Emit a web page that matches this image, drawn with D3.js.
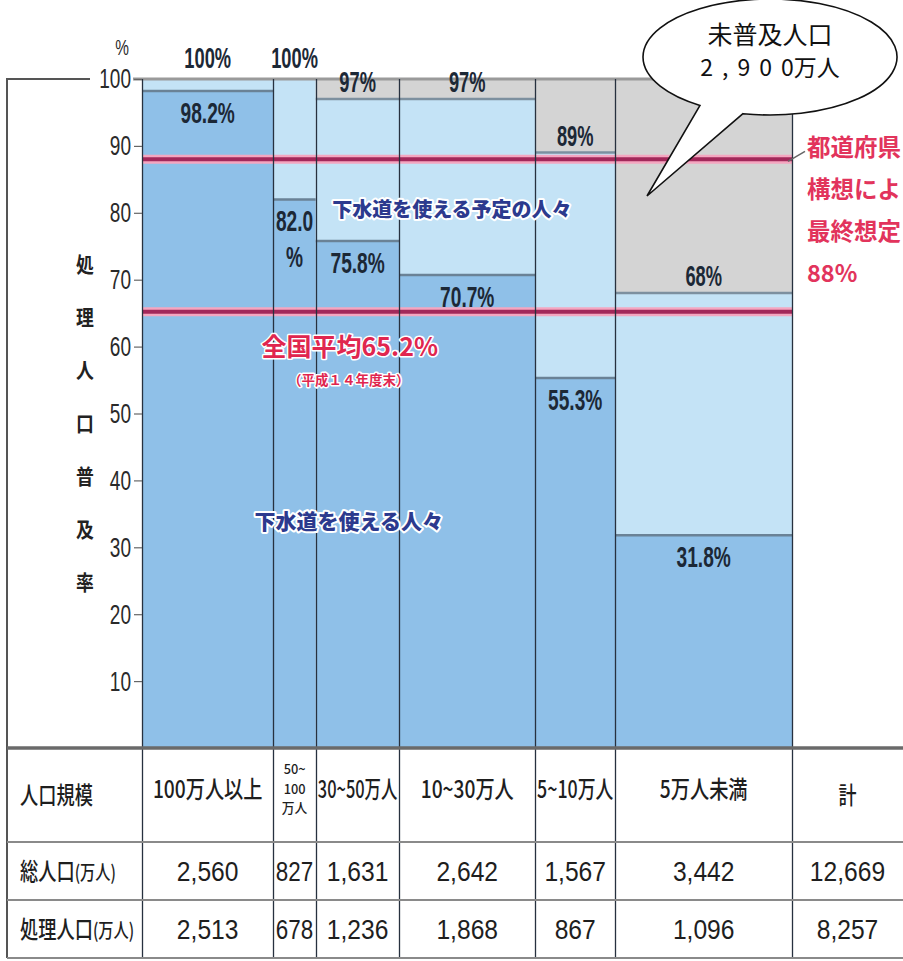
<!DOCTYPE html>
<html>
<head>
<meta charset="utf-8">
<script src="https://cdn.jsdelivr.net/npm/d3@7"></script>
<style>
body { margin: 0; background: #fff; }
svg { display: block; }
</style>
</head>
<body>
<svg width="903" height="961"></svg>
<script>
// ---- data ----
var sizes = ["100万人以上", "50~100万人", "30~50万人", "10~30万人", "5~10万人", "5万人未満"];
var sizeHeaderLines = [["100万人以上"], ["50~", "100", "万人"], ["30~50万人"], ["10~30万人"], ["5~10万人"], ["5万人未満"]];
var totalPop = [2560, 827, 1631, 2642, 1567, 3442];     // 総人口(万人)
var servedPop = [2513, 678, 1236, 1868, 867, 1096];     // 処理人口(万人)
var servedRate = [98.2, 82.0, 75.8, 70.7, 55.3, 31.8];  // 下水道を使える人々
var plannedRate = [100, 100, 97, 97, 89, 68];           // 下水道を使える予定の人々
var totalRow = [12669, 8257];                           // 計
var yTicks = [10, 20, 30, 40, 50, 60, 70, 80, 90, 100];
var nationalAvg = 65.2;
var prefTarget = 88;
var rowLabels = [["人口規模", ""], ["総人口", "(万人)"], ["処理人口", "(万人)"]];
var yTitle = "処理人口普及率";
var bubbleLines = ["未普及人口", "2,900", "万人"];
var targetLines = ["都道府県", "構想によ", "最終想定", "88%"];

var svg = d3.select("svg");
var NUM = "'Liberation Sans', Arial, sans-serif";
var JP = "'Noto Sans CJK JP', 'Noto Sans', sans-serif";

var x = d3.scaleLinear().domain([0, d3.sum(totalPop)]).range([142, 792]);
var y = d3.scaleLinear().domain([0, 100]).range([748, 79]);

var tableRows = [748, 842, 900, 958];
var frameLeft = 7, rightEdge = 903;

var ends = Array.from(d3.cumsum(totalPop));
var cols = sizes.map(function(s, i) {
  return {
    name: s, i: i,
    x0: x(ends[i] - totalPop[i]), x1: x(ends[i]),
    served: servedRate[i], planned: plannedRate[i]
  };
});

// squeeze text horizontally (narrow fonts), optional max width
function squeeze(sel, sx, maxW, sy) {
  sel.each(function(d) {
    var t = d3.select(this);
    var s = sx;
    var mw = typeof maxW === "function" ? maxW(d) : maxW;
    if (mw) {
      var w = this.getComputedTextLength();
      if (w * s > mw) s = mw / w;
    }
    var px = +t.attr("x") || 0, py = +t.attr("y") || 0;
    t.attr("x", null).attr("y", null)
      .attr("transform", "translate(" + px + "," + py + ") scale(" + s + "," + (sy || 1) + ")");
  });
}

// ---- bars ----
var g = svg.append("g");
var col = g.selectAll(".col").data(cols).enter().append("g").attr("class", "col");

col.append("rect")
  .attr("x", function(d) { return d.x0; })
  .attr("width", function(d) { return d.x1 - d.x0; })
  .attr("y", y(100))
  .attr("height", function(d) { return y(d.planned) - y(100); })
  .attr("fill", "#d4d4d4");

col.append("rect")
  .attr("x", function(d) { return d.x0; })
  .attr("width", function(d) { return d.x1 - d.x0; })
  .attr("y", function(d) { return y(d.planned); })
  .attr("height", function(d) { return y(d.served) - y(d.planned); })
  .attr("fill", "#c4e3f6");

col.append("rect")
  .attr("x", function(d) { return d.x0; })
  .attr("width", function(d) { return d.x1 - d.x0; })
  .attr("y", function(d) { return y(d.served); })
  .attr("height", function(d) { return y(0) - y(d.served); })
  .attr("fill", "#8fc0e8");

col.filter(function(d) { return d.planned < 100; }).append("line")
  .attr("x1", function(d) { return d.x0; })
  .attr("x2", function(d) { return d.x1; })
  .attr("y1", function(d) { return y(d.planned); })
  .attr("y2", function(d) { return y(d.planned); })
  .attr("stroke", "#7d909f").attr("stroke-width", 2.5);

col.append("line")
  .attr("x1", function(d) { return d.x0; })
  .attr("x2", function(d) { return d.x1; })
  .attr("y1", function(d) { return y(d.served); })
  .attr("y2", function(d) { return y(d.served); })
  .attr("stroke", "#6a8296").attr("stroke-width", 2.5);

// top line at 100
g.append("line")
  .attr("x1", 133).attr("x2", x(d3.sum(totalPop)))
  .attr("y1", y(100)).attr("y2", y(100))
  .attr("stroke", "#9a9a9a").attr("stroke-width", 3);

// reference lines
[prefTarget, nationalAvg].forEach(function(v) {
  g.append("line").attr("x1", x(0)).attr("x2", x(d3.sum(totalPop)))
    .attr("y1", y(v)).attr("y2", y(v))
    .attr("stroke", "#f4a6c0").attr("stroke-width", 9);
  g.append("line").attr("x1", x(0)).attr("x2", x(d3.sum(totalPop)))
    .attr("y1", y(v)).attr("y2", y(v))
    .attr("stroke", "#a2285a").attr("stroke-width", 4);
});

// column separators (through table)
var bounds = [0].concat(ends);
g.selectAll(".sep").data(bounds).enter().append("line")
  .attr("class", "sep")
  .attr("x1", function(d) { return Math.round(x(d)) + 0.5; })
  .attr("x2", function(d) { return Math.round(x(d)) + 0.5; })
  .attr("y1", y(100)).attr("y2", tableRows[3])
  .attr("stroke", "#27313f").attr("stroke-width", 1.3);

// ---- bar labels ----
var lab = svg.append("g").attr("font-family", NUM).attr("font-weight", "bold")
  .attr("font-size", 29).attr("fill", "#1c2836").attr("text-anchor", "middle");

var servedLab = lab.selectAll(".sl").data(cols).enter().append("text")
  .attr("x", function(d) { return (d.x0 + d.x1) / 2; })
  .attr("y", function(d) { return y(d.served) + 32; })
  .text(function(d) { return (d.x1 - d.x0 < 60) ? d.served.toFixed(1) : d.served.toFixed(1) + "%"; });
squeeze(servedLab, 0.66);

var pctOnly = lab.selectAll(".sp").data(cols.filter(function(d) { return d.x1 - d.x0 < 60; }))
  .enter().append("text")
  .attr("x", function(d) { return (d.x0 + d.x1) / 2; })
  .attr("y", function(d) { return y(d.served) + 68; })
  .text("%");
squeeze(pctOnly, 0.66);

var planLab = lab.selectAll(".pl").data(cols).enter().append("text")
  .attr("x", function(d) { return (d.x0 + d.x1) / 2; })
  .attr("y", function(d) { return y(d.planned) - 7 - (d.planned === 100 ? 4 : 0); })
  .text(function(d) { return d.planned + "%"; });
squeeze(planLab, 0.63);

// ---- y axis ----
var axis = svg.append("g").attr("transform", "translate(" + x(0) + ",0)")
  .call(d3.axisLeft(y).tickValues(yTicks).tickSize(8).tickPadding(3));
axis.select(".domain").remove();
axis.selectAll("line").attr("stroke", "#666").attr("stroke-width", 1.2);
axis.selectAll("text").attr("font-family", NUM).attr("font-size", 28).attr("fill", "#2a2a2a");
squeeze(axis.selectAll("text"), 0.68);

var unit = svg.append("text").attr("x", 122).attr("y", 55).attr("text-anchor", "middle")
  .attr("font-family", NUM).attr("font-size", 22).attr("fill", "#2a2a2a").text("%");
squeeze(unit, 0.7);

// vertical title
var tchars = yTitle.split("");
svg.append("g").selectAll("text").data(tchars).enter().append("text")
  .attr("x", 85)
  .attr("y", function(d, i) { return y(48.5) + (i - (tchars.length - 1) / 2) * 53; })
  .attr("dy", "0.35em")
  .attr("text-anchor", "middle")
  .attr("font-family", JP).attr("font-weight", "bold").attr("font-size", 21).attr("fill", "#222")
  .text(function(d) { return d; })
  .call(squeeze, 0.85);

// ---- annotations in the chart ----
function halo(sel, w) {
  sel.attr("stroke", "#fff").attr("stroke-width", w).attr("stroke-linejoin", "round")
    .attr("paint-order", "stroke");
}
svg.append("text").attr("x", x(6040)).attr("y", y(80.5)).attr("dy", "0.36em")
  .attr("text-anchor", "middle").attr("font-family", JP).attr("font-weight", "900")
  .attr("font-size", 20).attr("fill", "#2c3a8e").text("下水道を使える予定の人々").call(halo, 4);

svg.append("text").attr("x", x(4030)).attr("y", y(33.8)).attr("dy", "0.36em")
  .attr("text-anchor", "middle").attr("font-family", JP).attr("font-weight", "900")
  .attr("font-size", 21).attr("fill", "#2c3a8e").text("下水道を使える人々").call(halo, 4);

svg.append("text").attr("x", x(4050)).attr("y", y(59.9)).attr("dy", "0.36em")
  .attr("text-anchor", "middle").attr("font-family", JP).attr("font-weight", "bold")
  .attr("font-size", 25).attr("fill", "#e0264f").text("全国平均" + nationalAvg + "%").call(halo, 3);

svg.append("text").attr("x", x(4030)).attr("y", y(55)).attr("dy", "0.36em")
  .attr("text-anchor", "middle").attr("font-family", JP).attr("font-weight", "bold")
  .attr("font-size", 13.5).attr("fill", "#e0264f").text("（平成１４年度末）").call(halo, 3);

// right label for 88%
svg.append("line").attr("x1", x(d3.sum(totalPop)) - 4).attr("y1", y(prefTarget) + 2)
  .attr("x2", 805).attr("y2", y(prefTarget) - 8).attr("stroke", "#666").attr("stroke-width", 1.5);
svg.append("g").selectAll("text").data(targetLines).enter().append("text")
  .attr("x", 807)
  .attr("y", function(d, i) { return y(prefTarget) - 12 + i * 42; })
  .attr("dy", "0.36em")
  .attr("font-family", JP).attr("font-weight", "bold").attr("font-size", 23.5)
  .attr("fill", "#e2345c")
  .text(function(d) { return d; });

// ---- frame and table ----
var frame = svg.append("g").attr("fill", "none");
frame.append("path").attr("d", "M90," + y(100) + "H" + frameLeft + "V" + tableRows[3])
  .attr("stroke", "#555").attr("stroke-width", 2);
frame.selectAll(".hl").data(tableRows).enter().append("line")
  .attr("x1", frameLeft).attr("x2", rightEdge)
  .attr("y1", function(d) { return d; }).attr("y2", function(d) { return d; })
  .attr("stroke", function(d, i) { return i === 0 ? "#6a6a6a" : "#8a8a8a"; })
  .attr("stroke-width", function(d, i) { return i === 0 ? 3.5 : 2; });

var rowMid = [0, 1, 2].map(function(i) { return (tableRows[i] + tableRows[i + 1]) / 2; });

// row labels
var tl = svg.append("g").attr("font-family", JP).attr("font-weight", "500").attr("fill", "#1e1e1e");
rowLabels.forEach(function(r, i) {
  var t = tl.append("text").attr("x", 20).attr("y", rowMid[i]).attr("dy", "0.36em").attr("font-size", 24);
  t.append("tspan").text(r[0]);
  if (r[1]) t.append("tspan").attr("font-size", 20).text(r[1]);
  squeeze(t, 0.76);
});

// header cells
cols.forEach(function(d, i) {
  var lines = sizeHeaderLines[i];
  var narrow = lines.length > 1;
  var fs = narrow ? 16 : 24;
  var lh = 19.5;
  lines.forEach(function(s, k) {
    var t = tl.append("text")
      .attr("x", (d.x0 + d.x1) / 2)
      .attr("y", rowMid[0] - 6 + (k - (lines.length - 1) / 2) * lh)
      .attr("dy", "0.36em").attr("text-anchor", "middle")
      .attr("font-size", fs).text(s);
    squeeze(t, 0.8, d.x1 - d.x0 - 4, narrow ? 0.84 : 1);
  });
});
var totX = (x(d3.sum(totalPop)) + rightEdge) / 2;
tl.append("text").attr("x", totX).attr("y", rowMid[0]).attr("dy", "0.36em")
  .attr("text-anchor", "middle").attr("font-size", 24).text("計").call(squeeze, 0.75);

// number cells
var fmt = d3.format(",");
var tn = svg.append("g").attr("font-family", NUM).attr("font-size", 28).attr("fill", "#1e1e1e")
  .attr("text-anchor", "middle");
[totalPop, servedPop].forEach(function(arr, r) {
  cols.forEach(function(d, i) {
    var t = tn.append("text").attr("x", (d.x0 + d.x1) / 2).attr("y", rowMid[r + 1])
      .attr("dy", "0.36em").text(fmt(arr[i]));
    squeeze(t, 0.88, d.x1 - d.x0 - 5);
  });
  tn.append("text").attr("x", totX).attr("y", rowMid[r + 1]).attr("dy", "0.36em")
    .text(fmt(totalRow[r])).call(squeeze, 0.88);
});

// ---- speech bubble ----
var bx = 770, by = 57, rx = 127, ry = 58;
var tip = [647, 196];
function onEllipse(px) {
  var dx = px - bx;
  return by + ry * Math.sqrt(1 - (dx * dx) / (rx * rx));
}
var lA = [700, onEllipse(700)], rA = [743, onEllipse(743)];
svg.append("path")
  .attr("d", "M" + lA + "L" + tip + "L" + rA +
    "A" + rx + " " + ry + " 0 1 0 " + lA + "Z")
  .attr("fill", "#fff").attr("stroke", "#111").attr("stroke-width", 1.6);

var bt = svg.append("g").attr("font-family", JP).attr("fill", "#111").attr("text-anchor", "middle");
bt.append("text").attr("x", bx).attr("y", 35).attr("dy", "0.36em").attr("font-size", 25)
  .text(bubbleLines[0]);
var num = bubbleLines[1];
var b2 = bt.append("text").attr("x", bx).attr("y", 68).attr("dy", "0.36em").attr("font-size", 23);
b2.append("tspan").attr("letter-spacing", 9).text(num.slice(0, -1));
b2.append("tspan").text(num.slice(-1) + bubbleLines[2]);
</script>
</body>
</html>
